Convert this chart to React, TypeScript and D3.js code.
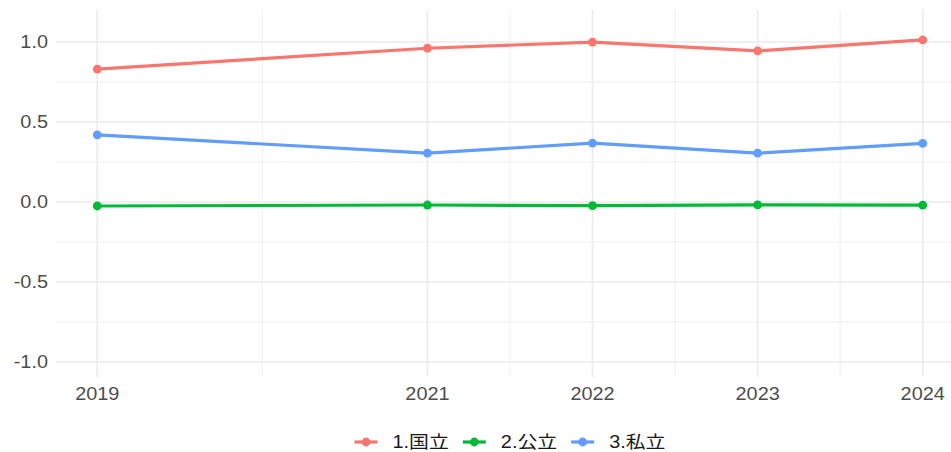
import React, { useEffect, useRef } from "react";
import * as d3 from "d3";

const years = [2019, 2021, 2022, 2023, 2024];
const seriesNames = ["1.国立", "2.公立", "3.私立"];
const valuesKokuritsu = [0.831, 0.961, 0.999, 0.944, 1.013];
const valuesKouritsu = [-0.025, -0.019, -0.023, -0.018, -0.020];
const valuesShiritsu = [0.42, 0.305, 0.368, 0.305, 0.366];
const seriesColors = ["#F8766D", "#00BA38", "#619CFF"];
const xBreaks = [2019, 2021, 2022, 2023, 2024];
const xMinorBreaks = [2020, 2021.5, 2022.5, 2023.5];
const yBreaks = [-1, -0.5, 0, 0.5, 1];
const yMinorBreaks = [-0.75, -0.25, 0.25, 0.75];

const W = 951;
const H = 452;
const FONT = "'Liberation Sans', Arial, 'Noto Sans CJK JP', sans-serif";
const FS = 17.6;
const SX = 1.13;

export default function App() {
  const ref = useRef<SVGSVGElement | null>(null);

  useEffect(() => {
    const svg = d3.select(ref.current);
    svg.selectAll("*").remove();

    const left = 56, right = 964, top = 10, bottom = 377;
    const x = d3.scaleLinear().domain([2018.75, 2024.25]).range([left, right]);
    const y = d3.scaleLinear().domain([-1.094, 1.2]).range([bottom, top]);

    const g = svg.append("g");
    g.selectAll(".ymin").data(yMinorBreaks).join("line")
      .attr("x1", left).attr("x2", right)
      .attr("y1", (d) => y(d)).attr("y2", (d) => y(d))
      .attr("stroke", "#EBEBEB").attr("stroke-width", 0.8);
    g.selectAll(".xmin").data(xMinorBreaks).join("line")
      .attr("y1", top).attr("y2", bottom)
      .attr("x1", (d) => x(d)).attr("x2", (d) => x(d))
      .attr("stroke", "#EBEBEB").attr("stroke-width", 0.8);
    g.selectAll(".ymaj").data(yBreaks).join("line")
      .attr("x1", left).attr("x2", right)
      .attr("y1", (d) => y(d)).attr("y2", (d) => y(d))
      .attr("stroke", "#EBEBEB").attr("stroke-width", 1.6);
    g.selectAll(".xmaj").data(xBreaks).join("line")
      .attr("y1", top).attr("y2", bottom)
      .attr("x1", (d) => x(d)).attr("x2", (d) => x(d))
      .attr("stroke", "#EBEBEB").attr("stroke-width", 1.6);

    svg.append("g").selectAll("text").data(yBreaks).join("text")
      .attr("transform", (d) => `translate(48,${y(d)}) scale(${SX},1)`)
      .attr("dy", "0.36em")
      .attr("text-anchor", "end").attr("font-family", FONT).attr("font-size", FS)
      .attr("fill", "#4D4D4D").text((d) => d3.format(".1f")(d).replace("\u2212", "-"));
    svg.append("g").selectAll("text").data(xBreaks).join("text")
      .attr("transform", (d) => `translate(${x(d)},399.5) scale(${SX},1)`)
      .attr("text-anchor", "middle").attr("font-family", FONT).attr("font-size", FS)
      .attr("fill", "#4D4D4D").text((d) => String(d));

    const allSeries = [valuesKokuritsu, valuesKouritsu, valuesShiritsu];
    const line = d3.line<number>().x((_, i) => x(years[i])).y((d) => y(d));
    allSeries.forEach((vals, si) => {
      svg.append("path").attr("d", line(vals) as string)
        .attr("fill", "none").attr("stroke", seriesColors[si])
        .attr("stroke-width", 3.2).attr("stroke-linejoin", "round");
      svg.append("g").selectAll("circle").data(vals).join("circle")
        .attr("cx", (_, i) => x(years[i])).attr("cy", (d) => y(d))
        .attr("r", 4.4).attr("fill", seriesColors[si]);
    });

    const lg = svg.append("g");
    const items = seriesNames.map((name, i) => {
      const it = lg.append("g");
      it.append("line").attr("x1", 0).attr("x2", 23).attr("y1", 0).attr("y2", 0)
        .attr("stroke", seriesColors[i]).attr("stroke-width", 3.2);
      it.append("circle").attr("cx", 11.5).attr("cy", 0).attr("r", 4.4).attr("fill", seriesColors[i]);
      const t = it.append("text").attr("transform", `translate(38,0) scale(${SX},1)`).attr("dy", "0.36em")
        .attr("font-family", FONT).attr("font-size", FS).attr("fill", "#1A1A1A").text(name);
      const tw = (t.node() as SVGTextElement).getComputedTextLength() * SX;
      return { it, w: 38 + tw };
    });
    const gap = 14;
    const total = items.reduce((s, d) => s + d.w, 0) + gap * (items.length - 1);
    let cx = (left + right) / 2 - total / 2;
    items.forEach((d) => {
      d.it.attr("transform", `translate(${cx},442)`);
      cx += d.w + gap;
    });
  }, []);

  return (
    <svg ref={ref} width={W} height={H} style={{ position: "absolute", left: 0, top: 0, background: "#fff" }} />
  );
}
